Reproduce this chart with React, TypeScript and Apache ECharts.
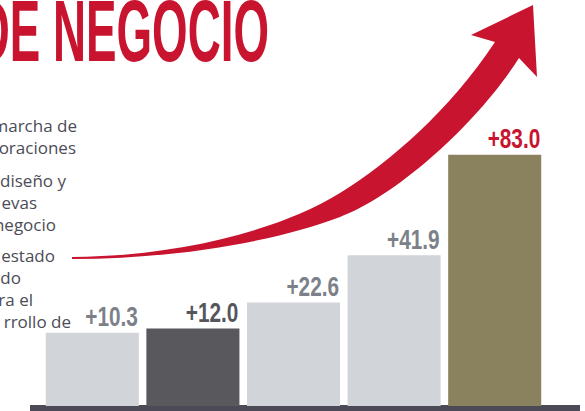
import { useEffect, useRef } from 'react';
import * as echarts from 'echarts';

// ---- data ----
const categories = ['1', '2', '3', '4', '5'];
const growth = [10.3, 12.0, 22.6, 41.9, 83.0];
const titleText = 'DE NEGOCIO';
const sideLines = ['marcha de', 'oraciones', 'diseño y', 'evas', 'negocio', 'estado', 'do', 'ra el', 'rrollo de'];

// ---- styles / layout (not data) ----
const barColors = ['#d1d4d9', '#59585c', '#d1d4d9', '#d1d4d9', '#8a815e'];
const labelColors = ['#7c8189', '#55565b', '#7c8189', '#7c8189', '#c8142f'];
const sideRight = [77, 76, 66, 37, 56, 55, 21, 33, 71];
const sideY = [125, 147, 180, 202, 224, 255, 277, 299, 321];
// the infographic's bars rise from a floor set below zero (they are not drawn to scale from 0)
const Y_MIN = -19.6;
const Y_MAX = 100.4;
const RED = '#c8142f';
const BOLD_FONT = '"Liberation Sans", Arial, sans-serif';

const arrowD =
  'M72,257 C180,256 280,230 340,193 C390,162 450,110 495,42 L471,35 L533,5 L537,77 L519,58 ' +
  'C480,120 400,194 340,217 C280,240 180,259 72,259 Z';
echarts.graphic.registerShape('swoosh', echarts.graphic.extendPath(arrowD, {}) as any);

export default function App() {
  const ref = useRef<HTMLDivElement>(null);
  useEffect(() => {
    if (!ref.current) return;
    const chart = echarts.init(ref.current, null, { renderer: 'svg' });
    const graphics: any[] = [
      {
        type: 'text',
        x: 269,
        y: 31,
        scaleX: 0.52,
        style: {
          text: titleText,
          fill: RED,
          font: `bold 88px ${BOLD_FONT}`,
          align: 'right',
          verticalAlign: 'middle',
        },
      },
      { type: 'swoosh', x: 0, y: 0, style: { fill: RED } },
      { type: 'rect', shape: { x: 30, y: 405, width: 550, height: 6 }, style: { fill: '#4d4a58' } },
      ...sideLines.map((t, i) => ({
        type: 'text',
        x: sideRight[i],
        y: sideY[i],
        style: {
          text: t,
          fill: '#4c4c56',
          font: '17px "Open Sans", sans-serif',
          align: 'right',
          verticalAlign: 'middle',
        },
      })),
    ];
    chart.setOption({
      animation: false,
      grid: { left: 42, right: 40, top: 112, bottom: 5 },
      xAxis: { type: 'category', data: categories, show: false },
      yAxis: { type: 'value', min: Y_MIN, max: Y_MAX, show: false },
      series: [
        {
          type: 'custom',
          data: growth.map((v, i) => [i, v]),
          renderItem: (params: any, api: any) => {
            const i = api.value(0);
            const v = api.value(1);
            const top = api.coord([i, v]);
            const bottom = api.coord([i, Y_MIN]);
            const bw = api.size([1, 0])[0] * 0.925;
            return {
              type: 'group',
              children: [
                {
                  type: 'rect',
                  shape: { x: top[0] - bw / 2, y: top[1], width: bw, height: bottom[1] - top[1] },
                  style: { fill: barColors[i] },
                },
                {
                  type: 'text',
                  x: top[0] + bw / 2 - 1,
                  y: top[1] - 16,
                  scaleX: 0.77,
                  style: {
                    text: '+' + Number(v).toFixed(1),
                    fill: labelColors[i],
                    font: `bold 27px ${BOLD_FONT}`,
                    align: 'right',
                    verticalAlign: 'middle',
                  },
                },
              ],
            };
          },
        },
      ],
      graphic: graphics,
    });
    return () => chart.dispose();
  }, []);
  return (
    <div
      ref={ref}
      style={{ position: 'fixed', left: 0, top: 0, width: 585, height: 411, background: '#fff' }}
    />
  );
}
